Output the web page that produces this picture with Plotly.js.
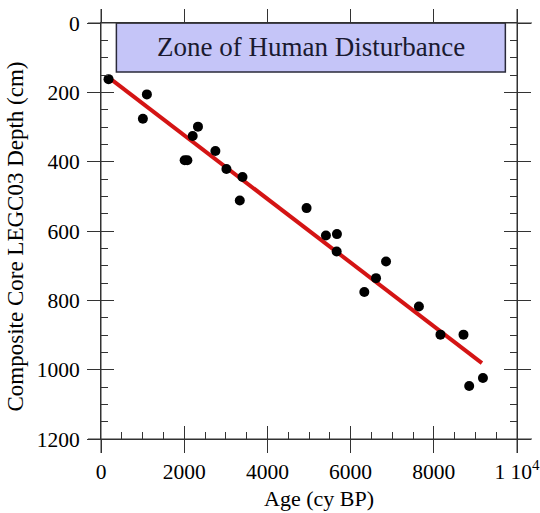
<!DOCTYPE html>
<html>
<head>
<meta charset="utf-8">
<script src="https://cdn.plot.ly/plotly-3.0.1.min.js"></script>
<style>
  html, body { margin: 0; padding: 0; background: #fff; }
  #chart { width: 540px; height: 513px; }
</style>
</head>
<body>
<div id="chart"></div>
<script>
// Radiocarbon ages (cy BP) and depths (cm) of dated samples in composite core LEGC03
const ages   = [181, 1103, 1007, 2331, 2204, 2011, 2076, 2750, 3015, 3401, 3336,
                4942, 5407, 5672, 5665, 6852, 6611, 6330, 7642, 8160, 8714, 9181, 8851];
const depths = [162, 206, 276, 299, 326, 396, 396, 369, 421, 444, 512,
                534, 613, 609, 659, 688, 736, 776, 818, 899, 899, 1024, 1047];

// Linear age-depth fit, end points
const fitAge   = [229, 9157];
const fitDepth = [161, 981];

// Axis ticks
const xTickVals = [0, 2000, 4000, 6000, 8000, 10000];
const xTickText = ['0', '2000', '4000', '6000', '8000', '1 10<sup>4</sup>'];
const yTickVals = [0, 200, 400, 600, 800, 1000, 1200];

// Shaded band at the top of the core
const zoneLabel = 'Zone of Human Disturbance';
const zoneAge   = [370, 9720];
const zoneDepth = [0, 141];

const serif = 'Liberation Serif, Times New Roman, serif';
const axisColor = '#333';
const W = 416, H = 416; // plot area size in px

const fitTrace = {
  x: fitAge, y: fitDepth, mode: 'lines', type: 'scatter',
  line: { color: '#d41414', width: 4 },
  xaxis: 'x', yaxis: 'y', hoverinfo: 'skip'
};
const pointTrace = {
  x: ages, y: depths, mode: 'markers', type: 'scatter',
  marker: { color: '#000', size: 10 },
  xaxis: 'x2', yaxis: 'y2'
};

// main axes: outward halves of major ticks plus labels
const baseX = {
  range: [0, 10000], showgrid: false, zeroline: false,
  showline: true, linecolor: axisColor, linewidth: 1, mirror: 'ticks',
  ticks: 'outside', ticklen: 13, tickcolor: axisColor, tickwidth: 1,
  tickvals: xTickVals, ticktext: xTickText, ticklabeloverflow: 'allow',
  tickfont: { family: serif, size: 21.5, color: '#000' }
};
const baseY = {
  range: [1200, 0], showgrid: false, zeroline: false,
  showline: true, linecolor: axisColor, linewidth: 1, mirror: 'ticks',
  ticks: 'outside', ticklen: 13, tickcolor: axisColor, tickwidth: 1,
  tickvals: yTickVals, ticklabelstandoff: 3,
  tickfont: { family: serif, size: 21.5, color: '#000' }
};
// overlay axes: inward halves of major ticks and the minor ticks
const innerX = {
  matches: 'x', overlaying: 'x', range: [0, 10000],
  showgrid: false, zeroline: false, showline: false, mirror: 'ticks',
  ticks: 'inside', ticklen: 13, tickcolor: axisColor, tickwidth: 1,
  tickvals: xTickVals, showticklabels: false,
  minor: { ticks: 'inside', ticklen: 7, dtick: 500, tick0: 0, tickcolor: axisColor, showgrid: false }
};
const innerY = {
  matches: 'y', overlaying: 'y', range: [1200, 0],
  showgrid: false, zeroline: false, showline: false, mirror: 'ticks',
  ticks: 'inside', ticklen: 13, tickcolor: axisColor, tickwidth: 1,
  tickvals: yTickVals, showticklabels: false,
  minor: { ticks: 'inside', ticklen: 7, dtick: 50, tick0: 0, tickcolor: axisColor, showgrid: false }
};

// frame lines run a little past the corners
const ext = (px, len) => px / len;
const frameShapes = [
  { x0: -ext(13, W), x1: 1 + ext(15, W), y0: 0, y1: 0 },
  { x0: -ext(13, W), x1: 1 + ext(15, W), y0: 1, y1: 1 },
  { x0: 0, x1: 0, y0: -ext(14, H), y1: 1 + ext(14, H) },
  { x0: 1, x1: 1, y0: -ext(14, H), y1: 1 + ext(14, H) }
].map(s => Object.assign({
  type: 'line', xref: 'paper', yref: 'paper', layer: 'above',
  line: { color: axisColor, width: 1 }
}, s));

const zoneShape = {
  type: 'rect', xref: 'x', yref: 'y', layer: 'above',
  x0: zoneAge[0], x1: zoneAge[1], y0: zoneDepth[0], y1: zoneDepth[1],
  fillcolor: '#c5c5f8', line: { color: '#2a2a3a', width: 1.5 }
};

const layout = {
  width: 540, height: 513,
  margin: { l: 101, r: 23, t: 23, b: 74, pad: 0 },
  paper_bgcolor: '#fff', plot_bgcolor: '#fff',
  showlegend: false,
  xaxis: baseX, yaxis: baseY, xaxis2: innerX, yaxis2: innerY,
  shapes: [zoneShape].concat(frameShapes),
  annotations: [
    {
      text: zoneLabel, xref: 'x', yref: 'y',
      x: (zoneAge[0] + zoneAge[1]) / 2, y: (zoneDepth[0] + zoneDepth[1]) / 2,
      showarrow: false, xanchor: 'center', yanchor: 'middle',
      font: { family: serif, size: 27, color: '#1a1a30' }
    },
    {
      text: 'Age (cy BP)', xref: 'paper', yref: 'paper',
      x: 0.523, y: -0.144, showarrow: false, xanchor: 'center', yanchor: 'middle',
      font: { family: serif, size: 22, color: '#000' }
    },
    {
      text: 'Composite Core LEGC03 Depth (cm)', xref: 'paper', yref: 'paper',
      x: -0.205, y: 0.486, showarrow: false, xanchor: 'center', yanchor: 'middle',
      textangle: -90,
      font: { family: serif, size: 23, color: '#000' }
    }
  ]
};

Plotly.newPlot('chart', [fitTrace, pointTrace], layout, { displayModeBar: false, staticPlot: true });
</script>
</body>
</html>
